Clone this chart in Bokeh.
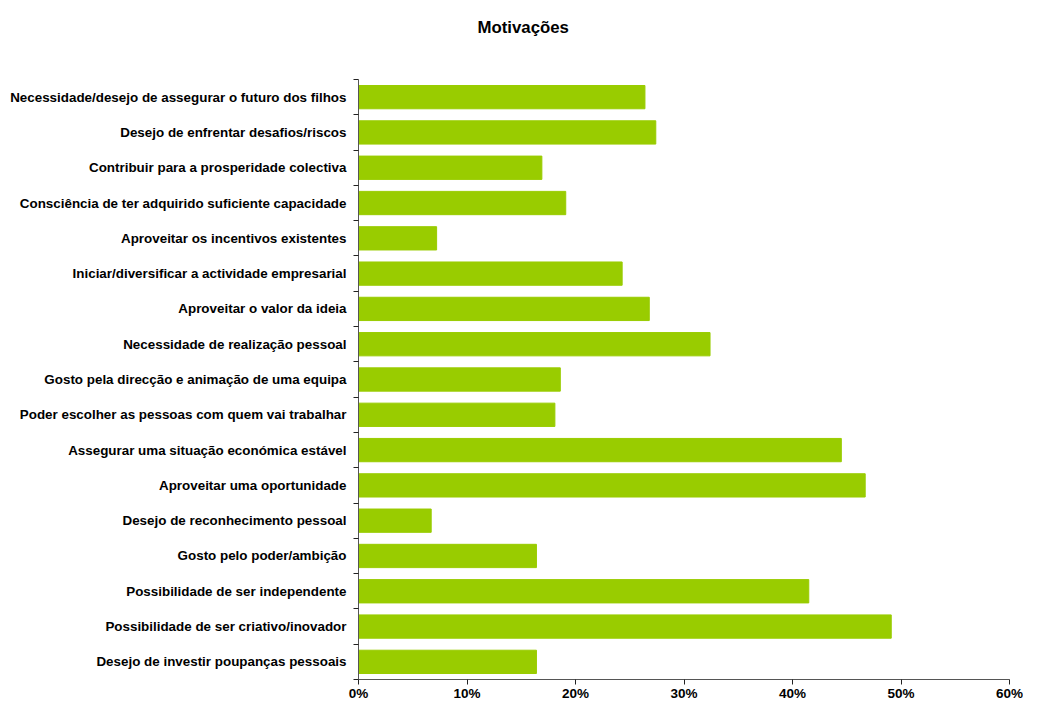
from bokeh.plotting import figure
from bokeh.models import Range1d, FixedTicker, NumeralTickFormatter, ColumnDataSource, Title
from bokeh.embed import file_html
from bokeh.resources import INLINE

categories = [
    "Necessidade/desejo de assegurar o futuro dos filhos",
    "Desejo de enfrentar desafios/riscos",
    "Contribuir para a prosperidade colectiva",
    "Consciência de ter adquirido suficiente capacidade",
    "Aproveitar os incentivos existentes",
    "Iniciar/diversificar a actividade empresarial",
    "Aproveitar o valor da ideia",
    "Necessidade de realização pessoal",
    "Gosto pela direcção e animação de uma equipa",
    "Poder escolher as pessoas com quem vai trabalhar",
    "Assegurar uma situação económica estável",
    "Aproveitar uma oportunidade",
    "Desejo de reconhecimento pessoal",
    "Gosto pelo poder/ambição",
    "Possibilidade de ser independente",
    "Possibilidade de ser criativo/inovador",
    "Desejo de investir poupanças pessoais",
]
values = [0.264, 0.274, 0.169, 0.191, 0.072, 0.243, 0.268, 0.324, 0.186,
          0.181, 0.445, 0.467, 0.067, 0.164, 0.415, 0.491, 0.164]
x_ticks = [0.0, 0.1, 0.2, 0.3, 0.4, 0.5, 0.6]
title_text = "Motivações"

FONT = "Liberation Sans"
n = len(categories)
ys = [n - i - 0.5 for i in range(n)]
src = ColumnDataSource(dict(y=ys, v=values, cat=categories))

p = figure(width=1023, height=703, output_backend="svg", toolbar_location=None,
           x_range=Range1d(0, 0.6), y_range=Range1d(0, n),
           min_border_left=358, min_border_right=14, min_border_top=79, min_border_bottom=20)
p.outline_line_color = None
p.grid.visible = False
p.background_fill_color = "white"
p.border_fill_color = "white"

p.hbar(y="y", right="v", left=0, height=0.66, color="#99CC00", source=src)

# spacer between the plot area and the title
spacer = Title(text=" ", standoff=30, text_font=FONT, text_font_size="10px")
p.add_layout(spacer, "above")
t = Title(text=title_text, align="left", offset=119, standoff=0,
          text_font=FONT, text_font_size="16.8px", text_font_style="bold", text_color="black")
p.add_layout(t, "above")
p.title.visible = False

xa = p.xaxis[0]
xa.ticker = FixedTicker(ticks=x_ticks)
xa.formatter = NumeralTickFormatter(format="0%")
xa.axis_line_color = "#555555"
xa.major_tick_line_color = "#222222"
xa.major_tick_in = 0
xa.major_tick_out = 5
xa.minor_tick_line_color = None
xa.major_label_text_font = FONT
xa.major_label_text_font_size = "13.5px"
xa.major_label_text_font_style = "bold"
xa.major_label_text_color = "black"
xa.major_label_standoff = 1

ya = p.yaxis[0]
ya.ticker = FixedTicker(ticks=ys, minor_ticks=[float(k) for k in range(n + 1)])
ya.major_label_overrides = {y: c for y, c in zip(ys, categories)}
ya.axis_line_color = "#555555"
ya.major_tick_in = 0
ya.major_tick_out = 0
ya.minor_tick_in = 0
ya.minor_tick_out = 5
ya.minor_tick_line_color = "#222222"
ya.major_label_text_font = FONT
ya.major_label_text_font_size = "13.4px"
ya.major_label_text_font_style = "bold"
ya.major_label_text_color = "black"
ya.major_label_standoff = 7

open("out.html", "w").write(file_html(p, INLINE))
